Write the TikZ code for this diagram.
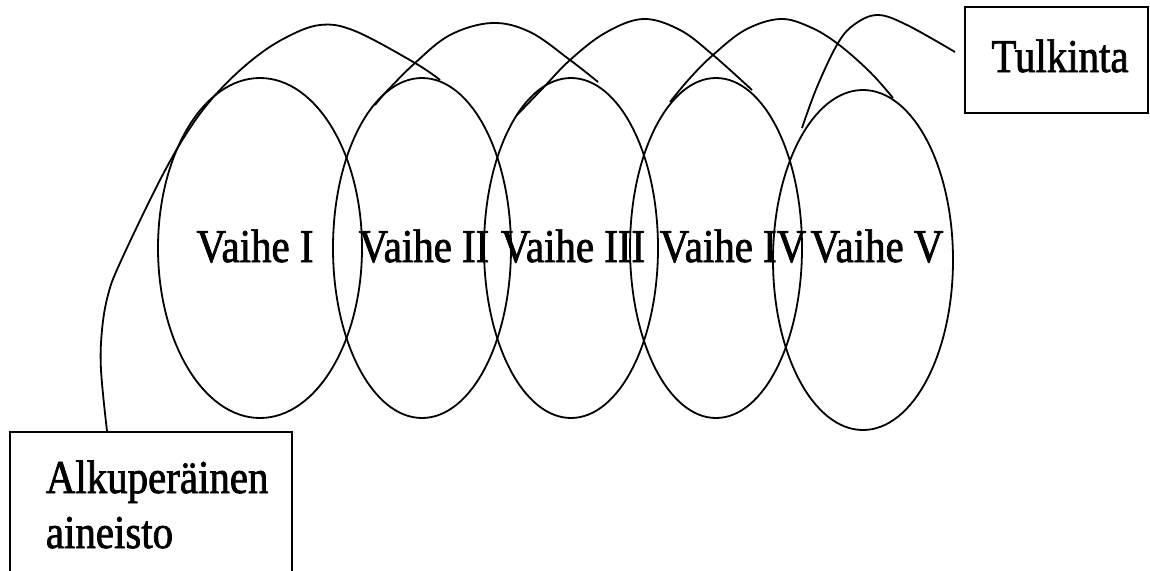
\documentclass[tikz,border=0pt]{standalone}
\usepackage{fontspec}
\setmainfont{Liberation Serif}[FakeStretch=0.87,FakeBold=1.5]
\usetikzlibrary{shapes.geometric}
\begin{document}
\begin{tikzpicture}[x=1pt,y=-1pt,line width=1.8pt,
  ring/.style={ellipse,draw,inner sep=0pt,outer sep=0pt},
  lbl/.style={font=\fontsize{47}{50}\selectfont,inner sep=0pt},
  framebox/.style={draw,rectangle,inner sep=0pt,line width=1.8pt},
  helix/.style={smooth,tension=0.6}]
\useasboundingbox (0,0) rectangle (1150,570);
\clip (0,0) rectangle (1150,570);
\fill[white] (0,0) rectangle (1150,570);
% ellipses
\node[ring,minimum width=204pt,minimum height=340pt] (e1) at (260,248) {};
\node[ring,minimum width=178pt,minimum height=340pt] (e2) at (422,248) {};
\node[ring,minimum width=174pt,minimum height=340pt] (e3) at (571,248) {};
\node[ring,minimum width=172pt,minimum height=340pt] (e4) at (716,248) {};
\node[ring,minimum width=180pt,minimum height=340pt] (e5) at (863,260) {};
% labels
\node[lbl,anchor=base] (v1) at (255,262) {Vaihe I};
\node[lbl,anchor=base] (v2) at (424,262) {Vaihe II};
\node[lbl,anchor=base] (v3) at (573,262) {Vaihe III};
\node[lbl,anchor=base] (v4) at (733,262) {Vaihe IV};
\node[lbl,anchor=base] (v5) at (877,262) {Vaihe V};
% boxes
\node[framebox,minimum width=183pt,minimum height=106pt] (tbox) at (1056.5,60) {};
\node[lbl,anchor=base] (tt) at (1060,72) {Tulkinta};
\node[framebox,minimum width=282pt,minimum height=188pt] (abox) at (151,526) {};
\node[lbl,anchor=base west] (at1) at (45,493) {Alkuperäinen};
\node[lbl,anchor=base west] (at2) at (45,548) {aineisto};
% connectors / helix
\coordinate (a0) at (107,0 |- abox.north);
\coordinate (t0) at (955,52);
\draw[helix] plot coordinates {(a0) (101,370) (102,330) (108,295) (120,263) (160,180) (190,128) (218,92) (252,60) (285,38) (320,25) (355,31) (415,63) (440,80)};
\draw[helix] plot coordinates {(375,105) (387,91) (415,63) (450,35) (492,23) (530,32) (570,60) (598,82)};
\draw[helix] plot coordinates {(517,115) (543,88) (570,60) (605,33) (643,19) (680,30) (713,55) (752,90)};
\draw[helix] plot coordinates {(670,102) (690,78) (713,55) (745,30) (780,19) (810,27) (838,44) (870,72) (893,98)};
\draw[helix] plot coordinates {(802,128) (817,87) (838,43) (855,24) (878,15) (907,25) (t0)};
\end{tikzpicture}
\end{document}
